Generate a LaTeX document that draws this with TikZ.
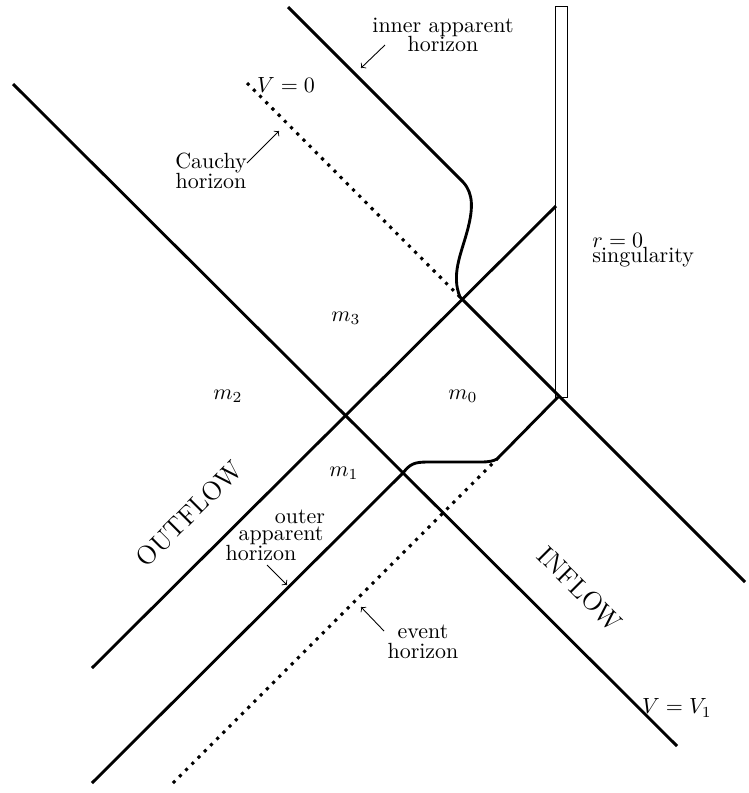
\documentclass[tikz,border=0pt]{standalone}
\usetikzlibrary{arrows}
\begin{document}
\begin{tikzpicture}[x=0.455pt,y=-0.455pt,
  world/.style={line width=1.3pt},
  dotline/.style={line width=1.4pt,dash pattern=on 1.4pt off 2.6pt},
  pointer/.style={line width=0.4pt,-to},
  lbl/.style={inner sep=0pt,align=center},
  flow/.style={inner sep=0pt,font=\large}]
\useasboundingbox (0,0) rectangle (749,793);
% coordinates
\coordinate (A1) at (13,84);
\coordinate (A2) at (677,746);
\coordinate (B1) at (288,7);
\coordinate (B2) at (463,182);
\coordinate (C) at (460,297);
\coordinate (B3) at (745,582);
\coordinate (D1) at (92,668);
\coordinate (D2) at (556,206);
\coordinate (E1) at (92,783);
\coordinate (E2) at (403,473);
\coordinate (E3) at (497,459);
\coordinate (E4) at (558,397);
\coordinate (F1) at (173,783);
\coordinate (G1) at (247,83);
% singularity
\draw[line width=0.45pt] (555,6) rectangle (567,397);
% lines
\draw[world] (A1) -- (A2);
\draw[world] (B1) -- (B2) .. controls (474,194) and (473,210) .. (467,232)
   .. controls (461,254) and (451,275) .. (C) -- (B3);
\draw[world] (D1) -- (D2);
\draw[world] (E1) -- (E2) .. controls (410,464) and (414,462) .. (428,462)
   -- (480,462) .. controls (490,462) and (493,461) .. (E3) -- (E4);
\draw[dotline] (F1) -- (E3);
\draw[dotline] (G1) -- (C);
% labels
\node[lbl] (iah) at (443,35) {inner apparent\\[-3pt]horizon};
\coordinate (iahs) at (385,45);
\coordinate (iaht) at (361,68);
\draw[pointer] (iahs) -- (iaht);
\node[lbl] (v0) at (286,85) {$V=0$};
\node[lbl,align=center] (cau) at (211,171) {Cauchy\\[-3pt]horizon};
\coordinate (caus) at (247,163);
\coordinate (caut) at (279,131);
\draw[pointer] (caus) -- (caut);
\node[lbl,align=left,anchor=north west] (sing) at (592,233) {$r=0$\\[-5pt]singularity};
\node[lbl] (m3) at (346,318) {$m_3$};
\node[lbl] (m2) at (228,396) {$m_2$};
\node[lbl] (m0) at (463,396) {$m_0$};
\node[lbl] (m1) at (344,473) {$m_1$};
\node[flow,rotate=45] (out) at (189,514) {OUTFLOW};
\node[flow,rotate=-45] (in) at (580,589) {INFLOW};
\node[lbl] (oa1) at (300,517) {outer};
\node[lbl] (oa2) at (281,536) {apparent};
\node[lbl] (oa3) at (261,553) {horizon};
\coordinate (oas) at (267,565);
\coordinate (oat) at (287,585);
\draw[pointer] (oas) -- (oat);
\node[lbl] (eh) at (423,642) {event\\[-3pt]horizon};
\coordinate (ehs) at (384,631);
\coordinate (eht) at (361,607);
\draw[pointer] (ehs) -- (eht);
\node[lbl] (v1) at (677,708) {$V=V_1$};
\end{tikzpicture}
\end{document}
